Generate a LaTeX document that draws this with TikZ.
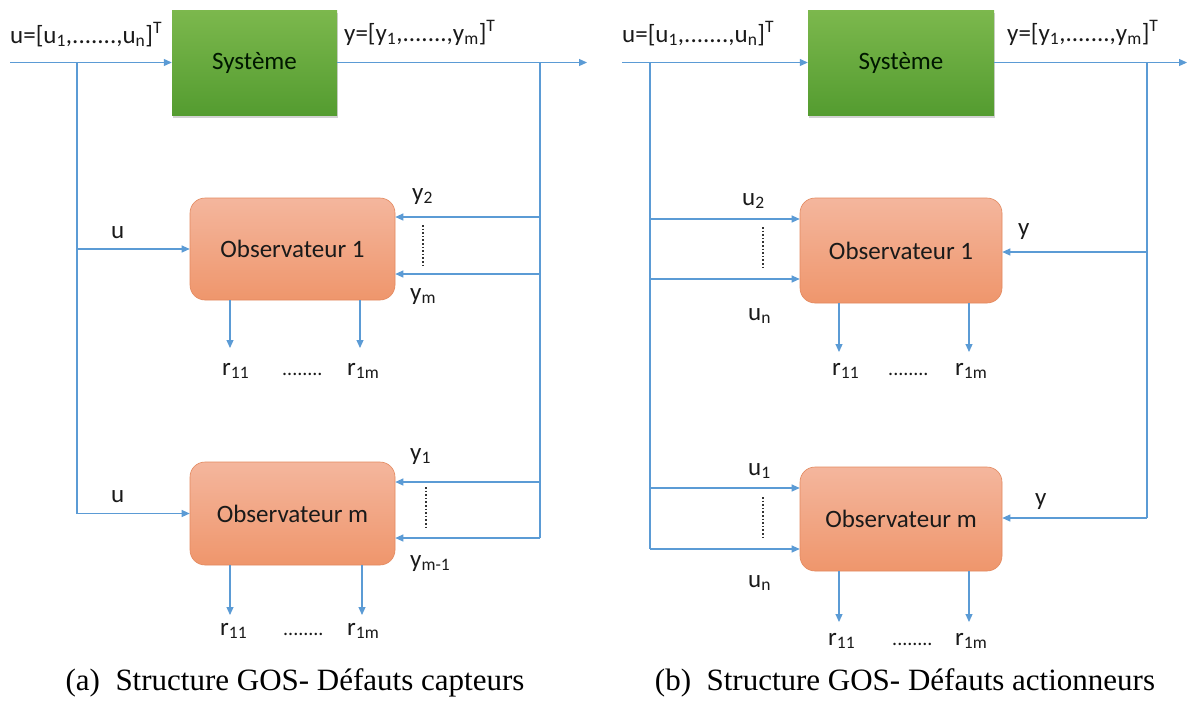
\documentclass[tikz,border=0pt]{standalone}
\usepackage{fontspec}
\setmainfont{Carlito}
\newfontfamily\capfont{Liberation Serif}
\usetikzlibrary{arrows.meta,shadows}
\definecolor{lb}{HTML}{5B9BD5}
\definecolor{gtop}{HTML}{7CB84D}
\definecolor{gbot}{HTML}{549C30}
\definecolor{otop}{HTML}{F4B69D}
\definecolor{obot}{HTML}{EF966C}
\definecolor{obrd}{HTML}{E3895F}
\definecolor{txt}{HTML}{1A1A1A}
\tikzset{
  lbl/.style={font=\fontsize{25}{30}\selectfont, text=txt, inner sep=0pt},
  sysbox/.style={draw=none, top color=gtop, bottom color=gbot, minimum width=165pt, minimum height=105pt,
    drop shadow={opacity=0.35, shadow xshift=1pt, shadow yshift=-3pt},
    font=\fontsize{25}{30}\selectfont, text=black!85!green!60!black},
  obsbox/.style={draw=obrd, line width=0.6pt, rounded corners=15pt, top color=otop, bottom color=obot,
    minimum width=205pt, minimum height=102pt, font=\fontsize{25}{30}\selectfont, text=txt},
  ln/.style={draw=lb, line width=1.1pt},
  arr/.style={ln, -{Triangle[length=8pt,width=7pt]}},
  dotln/.style={draw=black!80, line width=1.6pt, dotted},
  captxt/.style={font=\capfont\fontsize{31}{36}\selectfont, text=black, inner sep=0pt}
}
\newcommand\dd{.......}
\begin{document}
\begin{tikzpicture}[x=1pt,y=-1pt]
\useasboundingbox (0,0) rectangle (1188,702);
\fill[white] (0,0) rectangle (1188,702);

% ================= (a) =================
\node[sysbox] (sysA) at (254.5,62.5) {Système};
\node[obsbox] (obs1A) at (292.5,249) {Observateur 1};
\node[obsbox, minimum height=103pt] (obsmA) at (292.5,513.5) {Observateur m};

\coordinate (inA) at (10,62.5);
\coordinate (outA) at (587,62.5);
\draw[arr] (inA) -- (sysA.west);
\draw[arr] (sysA.east) -- (outA);

\coordinate (lA0) at (77,62.5);
\coordinate (lA1) at (77,249);
\coordinate (lA2) at (77,513.5);
\draw[ln] (lA0) -- (lA2);
\draw[arr] (lA1) -- (obs1A.west);
\draw[arr] (lA2) -- (obsmA.west);

\coordinate (rA0) at (540,62.5);
\coordinate (rA1) at (540,217);
\coordinate (rA2) at (540,274);
\coordinate (rA3) at (540,482);
\coordinate (rA4) at (540,538);
\draw[ln] (rA0) -- (rA4);
\draw[arr] (rA1) -- (rA1 -| obs1A.east);
\draw[arr] (rA2) -- (rA2 -| obs1A.east);
\draw[arr] (rA3) -- (rA3 -| obsmA.east);
\draw[arr] (rA4) -- (rA4 -| obsmA.east);

\draw[dotln] (423,225) -- (423,267);
\draw[dotln] (426,487) -- (426,530);

\coordinate (ra11) at (230,348);
\coordinate (ra1m) at (360,348);
\coordinate (rb11) at (230,615);
\coordinate (rb1m) at (362,615);
\draw[arr] (ra11 |- obs1A.south) -- (ra11);
\draw[arr] (ra1m |- obs1A.south) -- (ra1m);
\draw[arr] (rb11 |- obsmA.south) -- (rb11);
\draw[arr] (rb1m |- obsmA.south) -- (rb1m);

\node[lbl, anchor=base west] (uA) at (10,43) {u=[u\textsubscript{1},\dd,u\textsubscript{n}]\textsuperscript{T}};
\node[lbl, anchor=base west] (yA) at (344,41) {y=[y\textsubscript{1},\dd,y\textsubscript{m}]\textsuperscript{T}};
\node[lbl, anchor=base west] (uA1) at (111,238) {u};
\node[lbl, anchor=base west] (uA2) at (111,502) {u};
\node[lbl, anchor=base west] (y2A) at (412,200) {y\textsubscript{2}};
\node[lbl, anchor=base west] (ymA) at (410,300) {y\textsubscript{m}};
\node[lbl, anchor=base west] (y1A) at (410,460) {y\textsubscript{1}};
\node[lbl, anchor=base west] (ym1A) at (410,567) {y\textsubscript{m-1}};
\node[lbl, anchor=base west] (r11a) at (222,375) {r\textsubscript{11}};
\node[lbl, anchor=base west, font=\fontsize{20}{24}\selectfont] (dta) at (282,375) {........};
\node[lbl, anchor=base west] (r1ma) at (347,375) {r\textsubscript{1m}};
\node[lbl, anchor=base west] (r11b) at (220,635) {r\textsubscript{11}};
\node[lbl, anchor=base west, font=\fontsize{20}{24}\selectfont] (dtb) at (283,635) {........};
\node[lbl, anchor=base west] (r1mb) at (347,635) {r\textsubscript{1m}};

% ================= (b) =================
\node[sysbox, minimum width=186pt] (sysB) at (901,62.5) {Système};
\node[obsbox, minimum width=202pt, minimum height=105pt] (obs1B) at (901,250.5) {Observateur 1};
\node[obsbox, minimum width=202pt, minimum height=104pt] (obsmB) at (901,519) {Observateur m};

\coordinate (inB) at (622,62.5);
\coordinate (outB) at (1187,62.5);
\draw[arr] (inB) -- (sysB.west);
\draw[arr] (sysB.east) -- (outB);

\coordinate (lB0) at (650,62.5);
\coordinate (lB1) at (650,219);
\coordinate (lB2) at (650,279);
\coordinate (lB3) at (650,488);
\coordinate (lB4) at (650,549);
\draw[ln] (lB0) -- (lB4);
\draw[arr] (lB1) -- (lB1 -| obs1B.west);
\draw[arr] (lB2) -- (lB2 -| obs1B.west);
\draw[arr] (lB3) -- (lB3 -| obsmB.west);
\draw[arr] (lB4) -- (lB4 -| obsmB.west);

\coordinate (rB0) at (1147,62.5);
\coordinate (rB1) at (1147,252);
\coordinate (rB2) at (1147,518);
\draw[ln] (rB0) -- (rB2);
\draw[arr] (rB1) -- (rB1 -| obs1B.east);
\draw[arr] (rB2) -- (rB2 -| obsmB.east);

\draw[dotln] (763,227) -- (763,270);
\draw[dotln] (763,497) -- (763,540);

\coordinate (rc11) at (839,352);
\coordinate (rc1m) at (969,352);
\coordinate (rd11) at (839,622);
\coordinate (rd1m) at (969,622);
\draw[arr] (rc11 |- obs1B.south) -- (rc11);
\draw[arr] (rc1m |- obs1B.south) -- (rc1m);
\draw[arr] (rd11 |- obsmB.south) -- (rd11);
\draw[arr] (rd1m |- obsmB.south) -- (rd1m);

\node[lbl, anchor=base west] (uB) at (622,42) {u=[u\textsubscript{1},\dd,u\textsubscript{n}]\textsuperscript{T}};
\node[lbl, anchor=base west] (yB) at (1007,41) {y=[y\textsubscript{1},\dd,y\textsubscript{m}]\textsuperscript{T}};
\node[lbl, anchor=base west] (u2B) at (742,205) {u\textsubscript{2}};
\node[lbl, anchor=base west] (unB1) at (748,320) {u\textsubscript{n}};
\node[lbl, anchor=base west] (u1B) at (748,475) {u\textsubscript{1}};
\node[lbl, anchor=base west] (unB2) at (748,587) {u\textsubscript{n}};
\node[lbl, anchor=base west] (yB1) at (1018,235) {y};
\node[lbl, anchor=base west] (yB2) at (1035,505) {y};
\node[lbl, anchor=base west] (r11c) at (832,375) {r\textsubscript{11}};
\node[lbl, anchor=base west, font=\fontsize{20}{24}\selectfont] (dtc) at (888,375) {........};
\node[lbl, anchor=base west] (r1mc) at (955,375) {r\textsubscript{1m}};
\node[lbl, anchor=base west] (r11d) at (828,645) {r\textsubscript{11}};
\node[lbl, anchor=base west, font=\fontsize{20}{24}\selectfont] (dtd) at (892,645) {........};
\node[lbl, anchor=base west] (r1md) at (955,645) {r\textsubscript{1m}};

% captions
\node[captxt, anchor=base] (capA) at (295,690) {(a)\ \ Structure GOS- Défauts capteurs};
\node[captxt, anchor=base] (capB) at (905,690) {(b)\ \ Structure GOS- Défauts actionneurs};
\end{tikzpicture}
\end{document}
